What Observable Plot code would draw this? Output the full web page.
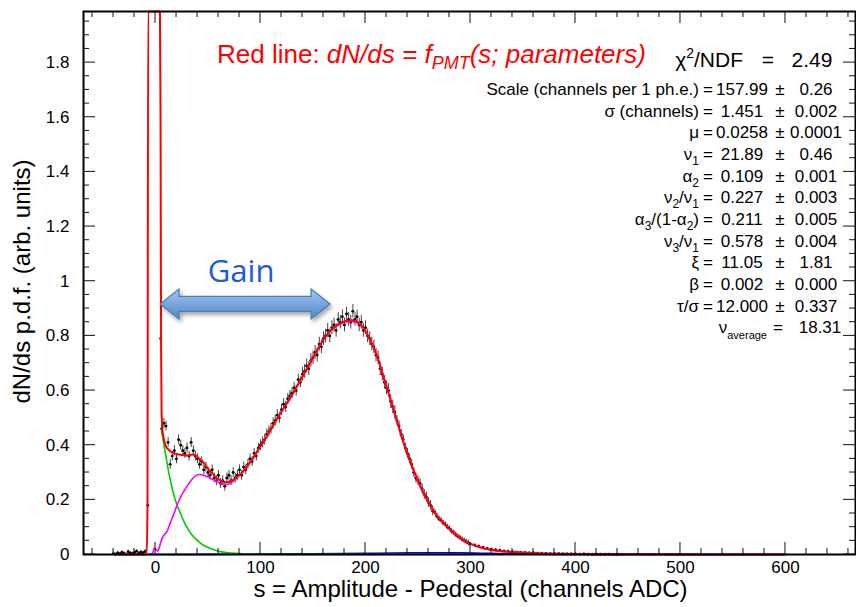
<!DOCTYPE html>
<html><head><meta charset="utf-8">
<script src="https://cdn.jsdelivr.net/npm/d3@7"></script>
<script src="https://cdn.jsdelivr.net/npm/@observablehq/plot@0.6"></script>
<style>
html,body{margin:0;padding:0;background:#fff;}
#chart{width:856px;height:607px;overflow:hidden;}
svg{display:block;}
</style></head><body><div id="chart"></div>
<script>
// ---------- measured data points (s, dN/ds) ----------
const measS = [
  -40,-38,-36,-34,-32,-30,-28,-26,-24,-22,-20,-18,-16,-14,-12,-10,
  -7.3, 5,
  6,8,10,12,14,16,18,20,22,24,
  26,28,30,32,34,36,38,40,42,44,
  46,48,50,52,54,56,58,60,62,64,
  66,68,70,72,74,76,78,80,82,84,
  86,88,90,92,94,96,98,100,102,104,
  106,108,110,112,114,116,118,120,122,124,
  126,128,130,132,134,136,138,140,142,144,
  146,148,150,152,154,156,158,160,162,164,
  166,168,170,172,174,176,178,180,182,184,
  186,188,190,192,194,196,198,200,202,204,
  206,208,210,212,214,216,218,220,222,224,
  226,228,230,232,234,236,238,240,242,244,
  246,248,250,252,254,256,258,260,262,264,
  266,268,270,272,274,276,278,280,282,284,
  286,288,290,292,294,296,298,300,
  304,308,312,316,320,324,328,332,336,340,
  344,348,352,356,360,364,368,372,376,380,
  384,388,392,396,400,404,408,412,416,420,
  424,428,432,436,440
];
const measV = [
  0.003,0.000,0.006,0.002,0.008,0.004,0.000,0.010,0.005,0.003,0.007,0.012,0.004,0.009,0.006,0.011,
  0.18, 0.79,
  0.46,0.48,0.47,0.41,0.33,0.36,0.38,0.35,0.42,0.40,
  0.38,0.37,0.39,0.36,0.41,0.38,0.36,0.35,0.33,0.34,
  0.31,0.32,0.30,0.29,0.31,0.28,0.27,0.29,0.26,0.27,
  0.25,0.28,0.29,0.27,0.30,0.28,0.29,0.31,0.29,0.32,
  0.31,0.33,0.35,0.34,0.37,0.36,0.39,0.40,0.41,0.42,
  0.44,0.45,0.46,0.48,0.49,0.51,0.50,0.53,0.55,0.54,
  0.57,0.58,0.59,0.61,0.60,0.64,0.63,0.66,0.67,0.69,
  0.68,0.71,0.72,0.74,0.73,0.77,0.76,0.79,0.80,0.82,
  0.80,0.83,0.84,0.82,0.86,0.85,0.87,0.84,0.88,0.86,
  0.85,0.89,0.86,0.87,0.84,0.85,0.82,0.83,0.80,0.79,
  0.77,0.76,0.73,0.72,0.68,0.66,0.63,0.61,0.60,0.56,
  0.54,0.52,0.49,0.47,0.44,0.42,0.39,0.37,0.35,0.33,
  0.30,0.28,0.27,0.26,0.24,0.22,0.21,0.19,0.18,0.16,
  0.155,0.14,0.13,0.125,0.115,0.11,0.10,0.095,0.085,0.08,
  0.072,0.066,0.062,0.055,0.051,0.046,0.042,0.038,
  0.034,0.030,0.026,0.022,0.019,0.017,0.015,0.012,0.011,0.010,
  0.009,0.008,0.007,0.006,0.006,0.005,0.004,0.004,0.003,0.003,
  0.003,0.002,0.002,0.002,0.002,0.001,0.002,0.001,0.001,0.001,
  0.001,0.001,0.001,0.000,0.001
];
// error bar half-length by s range
const errFromS = [-50, 4, 100, 140, 230, 265, 300, 340];
const errSize  = [0.006, 0.018, 0.02, 0.025, 0.018, 0.010, 0.005, 0.003];

// ---------- fit curves ----------
const redS = [-35,-8.5,-7.7,-7.0,4.2,4.8,5.3,5.8,6.5,8,10,12,15,20,25,30,35,38,42,47,52,57,62,67,72,77,82,87,92,97,102,107,112,117,122,127,132,137,142,147,152,157,162,167,172,177,182,187,192,197,202,207,212,217,222,227,232,237,242,247,252,257,262,267,272,277,282,287,292,297,302,310,320,330,345,360,380,400,430,460,520,600];
const redV = [0,0,0.15,6,6,1.6,0.75,0.52,0.46,0.42,0.395,0.385,0.375,0.368,0.364,0.362,0.366,0.362,0.350,0.330,0.305,0.285,0.270,0.264,0.268,0.282,0.298,0.322,0.348,0.378,0.408,0.440,0.472,0.505,0.535,0.565,0.597,0.630,0.665,0.700,0.735,0.768,0.798,0.820,0.836,0.848,0.855,0.857,0.852,0.835,0.805,0.765,0.715,0.650,0.590,0.527,0.463,0.400,0.345,0.297,0.253,0.212,0.178,0.148,0.125,0.105,0.087,0.070,0.056,0.045,0.036,0.025,0.017,0.012,0.008,0.005,0.003,0.002,0.001,0.0005,0.0002,0];
const greenS = [5.8,7,9,11,13,15,18,21,24,27,30,34,38,43,48,54,60,68,76,85,100,130,300];
const greenV = [0.45,0.425,0.38,0.335,0.292,0.256,0.21,0.176,0.148,0.121,0.099,0.075,0.058,0.041,0.029,0.019,0.012,0.007,0.004,0.002,0.001,0.0003,0];
const magS = [-6,-3,-1,0.5,2,3.5,5,7,9,11,13,16,19,22,26,30,34,38,41,44,48,52,56,60,64,68,72,76,80,85,90,95,100,110,120,130,140,150,160,170,180,187,195,205,215,225,235,245,255,265,275,285,295,305,320,340,360,400,450,600];
const magV = [0,0.004,0.024,0.018,0.012,0.025,0.045,0.065,0.075,0.085,0.105,0.135,0.165,0.195,0.225,0.25,0.272,0.288,0.293,0.292,0.287,0.28,0.272,0.264,0.258,0.256,0.262,0.275,0.29,0.31,0.336,0.365,0.395,0.458,0.522,0.584,0.65,0.72,0.786,0.83,0.85,0.853,0.84,0.78,0.68,0.552,0.425,0.313,0.225,0.158,0.112,0.076,0.048,0.032,0.016,0.009,0.005,0.002,0.0005,0];
const blueS = [-6,50,100,150,200,250,290,320,350,400,600];
const blueV = [0,0.0005,0.0015,0.003,0.0045,0.006,0.006,0.004,0.0015,0.0003,0];

// ---------- ticks ----------
const xTickValues = [0,100,200,300,400,500,600];
const xTickLabels = ["0","100","200","300","400","500","600"];
const yTickValues = [0,0.2,0.4,0.6,0.8,1.0,1.2,1.4,1.6,1.8];
const yTickLabels = ["0","0.2","0.4","0.6","0.8","1","1.2","1.4","1.6","1.8"];

// ---------- fit results text ----------
const paramNames  = ["Scale (channels per 1 ph.e.)","σ (channels)","μ","ν_1","α_2","ν_2/ν_1","α_3/(1-α_2)","ν_3/ν_1","ξ","β","τ/σ"];
const paramValues = ["157.99","1.451","0.0258","21.89","0.109","0.227","0.211","0.578","11.05","0.002","12.000"];
const paramErrors = ["0.26","0.002","0.0001","0.46","0.001","0.003","0.005","0.004","1.81","0.000","0.337"];
const chi2ndf = "2.49";
const nuAverage = "18.31";

const FONT = "'Liberation Sans', Arial, Helvetica, sans-serif";
const xDomain = [-68.6, 666.7];
const yDomain = [0, 1.987];

function errAt(s) {
  let e = errSize[0];
  for (let i = 0; i < errFromS.length; i++) if (s >= errFromS[i]) e = errSize[i];
  return e;
}
const measured = measS.map((s, i) => ({s, v: measV[i], e: errAt(s)}));
const toPts = (S, V) => S.map((s, i) => ({s, v: V[i]}));
const red = toPts(redS, redV), green = toPts(greenS, greenV), mag = toPts(magS, magV), blue = toPts(blueS, blueV);
const xTicks = xTickValues.map((v, i) => ({v, label: xTickLabels[i]}));
const yTicks = yTickValues.map((v, i) => ({v, label: yTickLabels[i]}));

const chart = Plot.plot({
  width: 856, height: 607,
  marginLeft: 83, marginRight: 1, marginTop: 11, marginBottom: 53,
  style: {background: "white", fontFamily: FONT, overflow: "visible"},
  x: {domain: xDomain, axis: null},
  y: {domain: yDomain, axis: null, clamp: true},
  marks: [
    Plot.ruleX(measured, {x: "s", y1: d => d.v - d.e, y2: d => d.v + d.e, stroke: "#444", strokeWidth: 1}),
    Plot.ruleY(measured, {y: "v", x1: d => d.s - 1, x2: d => d.s + 1, stroke: "#000", strokeWidth: 1}),
    Plot.dot(measured, {x: "s", y: "v", r: 1.4, fill: "#000", stroke: "none"}),
    Plot.line(blue, {x: "s", y: "v", stroke: "#0000ff", strokeWidth: 1.6, curve: "monotone-x"}),
    Plot.line(green, {x: "s", y: "v", stroke: "#00cc00", strokeWidth: 1.6, curve: "monotone-x"}),
    Plot.line(mag, {x: "s", y: "v", stroke: "#ff00ff", strokeWidth: 1.6, curve: "monotone-x"}),
    Plot.line(red, {x: "s", y: "v", stroke: "#ff0000", strokeWidth: 2, curve: "monotone-x"}),
    Plot.text(xTicks, {x: "v", y: d => 0, text: "label", dy: 6, lineAnchor: "top", fontSize: 17, fontFamily: FONT, fill: "#000"}),
    Plot.text(yTicks, {x: d => xDomain[0], y: "v", text: "label", dx: -14, textAnchor: "end", fontSize: 17, fontFamily: FONT, fill: "#000"}),
    Plot.frame({stroke: "#000", strokeWidth: 2})
  ]
});
document.getElementById("chart").appendChild(chart);

// ---------- decorations using the plot's scales ----------
const svg = d3.select(chart);
const sx = chart.scale("x"), sy = chart.scale("y");
const X = typeof sx.apply === "function" ? v => sx.apply(v) : d3.scaleLinear(sx.domain, sx.range);
const Y = typeof sy.apply === "function" ? v => sy.apply(v) : d3.scaleLinear(sy.domain, sy.range).clamp(true);
const L = X(xDomain[0]), R = X(xDomain[1]), B = Y(yDomain[0]), T = Y(yDomain[1]);

// inward ticks on all four sides
const tg = svg.append("g").attr("stroke", "#111").attr("stroke-width", 1);
for (let k = -3; k <= 33; k++) {
  const v = k * 20;
  if (v < xDomain[0] || v > xDomain[1]) continue;
  const len = v % 100 === 0 ? 12 : 6;
  const px = X(v);
  tg.append("line").attr("x1", px).attr("x2", px).attr("y1", B).attr("y2", B - len);
  tg.append("line").attr("x1", px).attr("x2", px).attr("y1", T).attr("y2", T + len);
}
for (let k = 0; k <= 39; k++) {
  const v = k * 0.05;
  if (v > yDomain[1]) continue;
  const len = k % 4 === 0 ? 12 : 6;
  const py = Y(v);
  tg.append("line").attr("y1", py).attr("y2", py).attr("x1", L).attr("x2", L + len);
  tg.append("line").attr("y1", py).attr("y2", py).attr("x1", R).attr("x2", R - len);
}

// axis titles
svg.append("text").attr("x", 470.5).attr("y", 597).attr("text-anchor", "middle")
  .attr("font-family", FONT).attr("font-size", 24).attr("fill", "#000")
  .text("s = Amplitude - Pedestal (channels ADC)");
svg.append("text").attr("transform", "translate(30,281.5) rotate(-90)").attr("text-anchor", "middle")
  .attr("font-family", FONT).attr("font-size", 24).attr("fill", "#000")
  .text("dN/ds p.d.f. (arb. units)");

// Gain arrow (double-headed block arrow)
const defs = svg.append("defs");
const grad = defs.append("linearGradient").attr("id", "gainGrad").attr("x1", 0).attr("y1", 0).attr("x2", 0).attr("y2", 1);
grad.append("stop").attr("offset", "0%").attr("stop-color", "#a9c8ec");
grad.append("stop").attr("offset", "55%").attr("stop-color", "#74a2da");
grad.append("stop").attr("offset", "100%").attr("stop-color", "#5287c9");
const filt = defs.append("filter").attr("id", "gainShadow").attr("x", "-10%").attr("y", "-50%").attr("width", "130%").attr("height", "220%");
filt.append("feDropShadow").attr("dx", 2).attr("dy", 3).attr("stdDeviation", 2).attr("flood-color", "#000").attr("flood-opacity", 0.35);
{
  const ax0 = X(4.8), ax1 = X(166.7), yc = Y(0.915);
  const hh = 15, sh = 7.5, hl = 19;
  const p = [[ax0, yc], [ax0 + hl, yc - hh], [ax0 + hl, yc - sh], [ax1 - hl, yc - sh], [ax1 - hl, yc - hh], [ax1, yc],
             [ax1 - hl, yc + hh], [ax1 - hl, yc + sh], [ax0 + hl, yc + sh], [ax0 + hl, yc + hh]];
  svg.append("path").attr("d", "M" + p.map(q => q.join(",")).join("L") + "Z")
    .attr("fill", "url(#gainGrad)").attr("stroke", "#4a7ebb").attr("stroke-width", 1.2)
    .attr("filter", "url(#gainShadow)");
  svg.append("text").attr("x", X(82)).attr("y", Y(0.995)).attr("text-anchor", "middle")
    .attr("font-family", "'Open Sans', 'Liberation Sans', sans-serif").attr("font-size", 31).attr("fill", "#1c5ad6")
    .text("Gain");
}

// red formula title
{
  const t = svg.append("text").attr("x", 217).attr("y", 63).attr("text-anchor", "start")
    .attr("font-family", FONT).attr("font-size", 26).attr("fill", "#ff0000");
  t.append("tspan").text("Red line: ");
  t.append("tspan").attr("font-style", "italic").text("dN/ds = f");
  t.append("tspan").attr("font-style", "italic").attr("font-size", 18).attr("dy", 6).text("PMT");
  t.append("tspan").attr("font-style", "italic").attr("dy", -6).text("(s; parameters)");
}

// rich label helper: "_" marks a subscript
function addRich(textSel, s, subSize, subShift) {
  const parts = s.split(/(_[0-9a-z]+)/);
  let shifted = false;
  for (const part of parts) {
    if (!part) continue;
    if (part[0] === "_") {
      textSel.append("tspan").attr("font-size", subSize).attr("dy", subShift).text(part.slice(1));
      shifted = true;
    } else {
      const ts = textSel.append("tspan").text(part);
      if (shifted) { ts.attr("dy", -subShift); shifted = false; }
    }
  }
}

// chi2/NDF line
{
  const t = svg.append("text").attr("x", 743).attr("y", 67).attr("text-anchor", "end")
    .attr("font-family", FONT).attr("font-size", 21).attr("fill", "#000");
  t.append("tspan").text("χ");
  t.append("tspan").attr("font-size", 14).attr("dy", -9).text("2");
  t.append("tspan").attr("dy", 9).text("/NDF");
  svg.append("text").attr("x", 768).attr("y", 67).attr("text-anchor", "middle").attr("font-family", FONT).attr("font-size", 21).text("=");
  svg.append("text").attr("x", 812).attr("y", 67).attr("text-anchor", "middle").attr("font-family", FONT).attr("font-size", 21).text(chi2ndf);
}

// parameter rows
const row0 = 95, rowStep = 21.65;
paramNames.forEach((name, i) => {
  const y = row0 + i * rowStep;
  const t = svg.append("text").attr("x", 699).attr("y", y).attr("text-anchor", "end")
    .attr("font-family", FONT).attr("font-size", 17).attr("fill", "#000");
  addRich(t, name, 12, 5);
  const g = svg.append("g").attr("font-family", FONT).attr("font-size", 17).attr("fill", "#000");
  g.append("text").attr("x", 708).attr("y", y).attr("text-anchor", "middle").text("=");
  g.append("text").attr("x", 742).attr("y", y).attr("text-anchor", "middle").text(paramValues[i]);
  g.append("text").attr("x", 780).attr("y", y).attr("text-anchor", "middle").text("±");
  g.append("text").attr("x", 816).attr("y", y).attr("text-anchor", "middle").text(paramErrors[i]);
});
// nu average
{
  const y = row0 + paramNames.length * rowStep;
  const t = svg.append("text").attr("x", 767).attr("y", y).attr("text-anchor", "end")
    .attr("font-family", FONT).attr("font-size", 17).attr("fill", "#000");
  t.append("tspan").text("ν");
  t.append("tspan").attr("font-size", 11).attr("dy", 6).text("average");
  const g = svg.append("g").attr("font-family", FONT).attr("font-size", 17).attr("fill", "#000");
  g.append("text").attr("x", 778).attr("y", y).attr("text-anchor", "middle").text("=");
  g.append("text").attr("x", 820).attr("y", y).attr("text-anchor", "middle").text(nuAverage);
}
</script>
</body></html>
